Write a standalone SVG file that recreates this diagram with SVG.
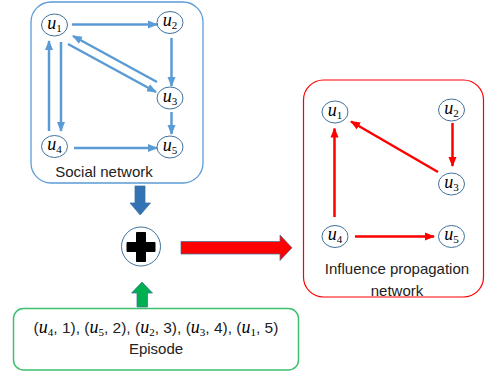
<svg xmlns="http://www.w3.org/2000/svg" width="485" height="375" viewBox="0 0 485 375">
<defs>
<style>
.node{fill:#fff;stroke:#41719C;stroke-width:1}
.lbl{font-family:"Liberation Serif",serif;font-style:italic;font-size:18px;fill:#000}
.sub{font-style:normal;font-size:11px}
.txt{font-family:"Liberation Sans",Arial,sans-serif;font-size:15px;fill:#222}
.ep{font-size:15.5px}
.be{stroke:#5B9BD5;stroke-width:2.5;fill:none;marker-end:url(#hb)}
.re{stroke:#FF0000;stroke-width:2.5;fill:none;marker-end:url(#hr)}
</style>
<marker id="hb" markerUnits="userSpaceOnUse" markerWidth="10" markerHeight="10" viewBox="0 0 10 10" refX="9" refY="5" orient="auto"><path d="M0,1 L10,5 L0,9 Z" fill="#5B9BD5"/></marker>
<marker id="hr" markerUnits="userSpaceOnUse" markerWidth="10" markerHeight="10" viewBox="0 0 10 10" refX="9" refY="5" orient="auto"><path d="M0,1 L10,5 L0,9 Z" fill="#FF0000"/></marker>
</defs>
<rect width="485" height="375" fill="#fff"/>

<g id="social-box">
<rect x="31" y="2" width="172" height="181" rx="20" fill="none" stroke="#5B9BD5" stroke-width="1.3"/>
<text class="txt" x="104" y="177" text-anchor="middle">Social network</text>
</g>

<g id="connectors-social">
<line class="be" x1="72" y1="24.5" x2="157" y2="24.5"/>
<line class="be" x1="171.5" y1="38" x2="171.5" y2="86"/>
<line class="be" x1="157" y1="82" x2="73" y2="36"/>
<line class="be" x1="68" y1="44" x2="156" y2="92"/>
<line class="be" x1="61" y1="42" x2="61" y2="131"/>
<line class="be" x1="49" y1="131" x2="49" y2="41"/>
<line class="be" x1="171.5" y1="112" x2="171.5" y2="134"/>
<line class="be" x1="74" y1="148" x2="157" y2="148"/>
</g>

<g id="s-u1"><ellipse class="node" cx="54.5" cy="25" rx="13" ry="11"/><text class="lbl" x="54.5" y="28.5" text-anchor="middle">u<tspan class="sub" dy="3">1</tspan></text></g>
<g id="s-u2"><ellipse class="node" cx="170" cy="22.5" rx="13" ry="11"/><text class="lbl" x="170" y="26" text-anchor="middle">u<tspan class="sub" dy="3">2</tspan></text></g>
<g id="s-u3"><ellipse class="node" cx="170" cy="98" rx="13" ry="11"/><text class="lbl" x="170" y="101.5" text-anchor="middle">u<tspan class="sub" dy="3">3</tspan></text></g>
<g id="s-u4"><ellipse class="node" cx="54.5" cy="146.5" rx="13" ry="11"/><text class="lbl" x="54.5" y="150" text-anchor="middle">u<tspan class="sub" dy="3">4</tspan></text></g>
<g id="s-u5"><ellipse class="node" cx="170" cy="147" rx="13" ry="11"/><text class="lbl" x="170" y="150.5" text-anchor="middle">u<tspan class="sub" dy="3">5</tspan></text></g>

<g id="ipn-box">
<rect x="303.5" y="80" width="180" height="217" rx="20" fill="none" stroke="#FF0000" stroke-width="1.2"/>
<text class="txt" x="397" y="274" text-anchor="middle">Influence propagation</text>
<text class="txt" x="397" y="296" text-anchor="middle">network</text>
</g>

<g id="connectors-ipn">
<line class="re" x1="452.5" y1="123" x2="452.5" y2="166"/>
<line class="re" x1="438" y1="172" x2="351" y2="121.5"/>
<line class="re" x1="334.5" y1="217" x2="334.5" y2="128.5"/>
<line class="re" x1="355" y1="236.5" x2="434" y2="236.5"/>
</g>

<g id="r-u1"><ellipse class="node" cx="335" cy="112" rx="13" ry="11"/><text class="lbl" x="335" y="115.5" text-anchor="middle">u<tspan class="sub" dy="3">1</tspan></text></g>
<g id="r-u2"><ellipse class="node" cx="451.5" cy="110" rx="13" ry="11"/><text class="lbl" x="451.5" y="113.5" text-anchor="middle">u<tspan class="sub" dy="3">2</tspan></text></g>
<g id="r-u3"><ellipse class="node" cx="451.5" cy="184" rx="13" ry="11"/><text class="lbl" x="451.5" y="187.5" text-anchor="middle">u<tspan class="sub" dy="3">3</tspan></text></g>
<g id="r-u4"><ellipse class="node" cx="335" cy="236.5" rx="13" ry="11"/><text class="lbl" x="335" y="240" text-anchor="middle">u<tspan class="sub" dy="3">4</tspan></text></g>
<g id="r-u5"><ellipse class="node" cx="451.5" cy="236.5" rx="13" ry="11"/><text class="lbl" x="451.5" y="240" text-anchor="middle">u<tspan class="sub" dy="3">5</tspan></text></g>

<g id="big-arrows">
<polygon points="135,186 145,186 145,203 150.5,203 140.2,215 130,203 135,203" fill="#3272B5" stroke="#41719C" stroke-width="0.75"/>
<polygon points="137,307 147.5,307 147.5,293 152.5,293 142,282 131.5,293 137,293" fill="#00B050" stroke="#41719C" stroke-width="0.75"/>
<polygon points="181,241.5 280,241.5 280,235 292,247.8 280,260.5 280,254 181,254" fill="#FF0000" stroke="#41719C" stroke-width="0.75"/>
</g>

<g id="plus">
<circle cx="141" cy="246.5" r="19.5" fill="#fff" stroke="#41719C" stroke-width="1"/>
<path d="M136.5,232.5 H145.5 V242.5 H155 V251.5 H145.5 V261.5 H136.5 V251.5 H127 V242.5 H136.5 Z" fill="#000" stroke="#000" stroke-width="1" stroke-linejoin="round"/>
</g>

<g id="episode">
<rect x="13.5" y="308.5" width="285" height="61.5" rx="10" fill="none" stroke="#3CC06E" stroke-width="1.5"/>
<text class="txt ep" x="156" y="333" text-anchor="middle">(<tspan class="lbl">u<tspan class="sub" dy="3">4</tspan></tspan><tspan dy="-3">, 1), (</tspan><tspan class="lbl">u<tspan class="sub" dy="3">5</tspan></tspan><tspan dy="-3">, 2), (</tspan><tspan class="lbl">u<tspan class="sub" dy="3">2</tspan></tspan><tspan dy="-3">, 3), (</tspan><tspan class="lbl">u<tspan class="sub" dy="3">3</tspan></tspan><tspan dy="-3">, 4), (</tspan><tspan class="lbl">u<tspan class="sub" dy="3">1</tspan></tspan><tspan dy="-3">, 5)</tspan></text>
<text class="txt" x="156" y="354" text-anchor="middle">Episode</text>
</g>
</svg>
